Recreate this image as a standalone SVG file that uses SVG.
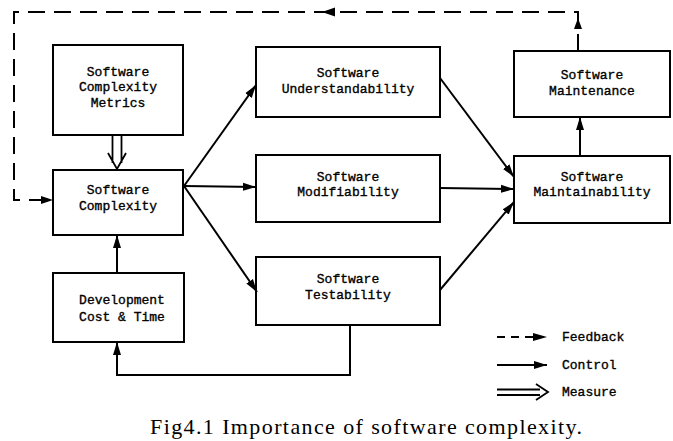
<svg xmlns="http://www.w3.org/2000/svg" width="673" height="441" viewBox="0 0 673 441">
<defs>
<style>
.box{fill:#fff;stroke:#000;stroke-width:2}
.t{font-family:"Liberation Mono","DejaVu Sans Mono",monospace;font-size:13px;text-anchor:middle;fill:#000;stroke:#000;stroke-width:0.35}
.lt{font-family:"Liberation Mono","DejaVu Sans Mono",monospace;font-size:13px;fill:#000;stroke:#000;stroke-width:0.35}
.c{stroke:#000;stroke-width:2;fill:none}
.d{stroke:#000;stroke-width:2;fill:none;stroke-dasharray:17 9}
.m{stroke:#000;stroke-width:1.8;fill:none}
.cap{font-family:"Liberation Serif","Times New Roman",serif;font-size:22px;fill:#000}
</style>
<marker id="ah" markerUnits="userSpaceOnUse" markerWidth="14" markerHeight="10" refX="13" refY="5" orient="auto">
<path d="M0,1 L13,5 L0,9 Z" fill="#000"/>
</marker>
</defs>
<rect width="673" height="441" fill="#fff"/>

<g id="metrics"><rect class="box" x="53" y="45" width="130" height="90"/>
<text class="t" x="118" y="76">Software</text><text class="t" x="118" y="91">Complexity</text><text class="t" x="118" y="107">Metrics</text></g>
<g id="complexity"><rect class="box" x="53" y="170" width="130" height="65"/>
<text class="t" x="118" y="194">Software</text><text class="t" x="118" y="210">Complexity</text></g>
<g id="development"><rect class="box" x="53" y="273" width="131" height="69"/>
<text class="t" x="122" y="304">Development</text><text class="t" x="122" y="321">Cost &amp; Time</text></g>
<g id="understandability"><rect class="box" x="256" y="47" width="184" height="70"/>
<text class="t" x="348" y="77">Software</text><text class="t" x="348" y="93">Understandability</text></g>
<g id="modifiability"><rect class="box" x="256" y="155" width="184" height="67"/>
<text class="t" x="348" y="181">Software</text><text class="t" x="348" y="196">Modifiability</text></g>
<g id="testability"><rect class="box" x="256" y="257" width="184" height="68"/>
<text class="t" x="348" y="283">Software</text><text class="t" x="348" y="299">Testability</text></g>
<g id="maintenance"><rect class="box" x="514" y="51" width="156" height="66"/>
<text class="t" x="592" y="79">Software</text><text class="t" x="592" y="95">Maintenance</text></g>
<g id="maintainability"><rect class="box" x="514" y="156" width="156" height="67"/>
<text class="t" x="592" y="181">Software</text><text class="t" x="592" y="196">Maintainability</text></g>

<g id="connectors">
<!-- feedback -->
<path class="d" d="M578,51 L578,12 L14,12 L14,200 L51,200"/>
<path d="M578,18 L574,29 L582,29 Z" fill="#000"/>
<path d="M322,12 L335,7.5 L335,16.5 Z" fill="#000"/>
<path d="M53,200 L41,196 L41,204 Z" fill="#000"/>
<!-- measure -->
<path class="m" d="M112.5,136 L112.5,163 M121.5,136 L121.5,163 M108,153 L117,169 L126,153"/>
<!-- control -->
<path class="c" d="M184,186 L256,85" marker-end="url(#ah)"/>
<path class="c" d="M184,186 L256,187" marker-end="url(#ah)"/>
<path class="c" d="M184,186 L257,292" marker-end="url(#ah)"/>
<path class="c" d="M440,78 L514,177" marker-end="url(#ah)"/>
<path class="c" d="M440,188 L514,189" marker-end="url(#ah)"/>
<path class="c" d="M440,290 L514,202" marker-end="url(#ah)"/>
<path class="c" d="M580,156 L580,117" marker-end="url(#ah)"/>
<path class="c" d="M117,273 L117,235" marker-end="url(#ah)"/>
<path class="c" d="M350,325 L350,375 L117,375 L117,342" marker-end="url(#ah)"/>
</g>

<g id="legend">
<path class="d" d="M497,337 L533,337" style="stroke-dasharray:8 6"/>
<path d="M547,337 L533,333 L533,341 Z" fill="#000"/>
<path class="c" d="M497,365 L547,365" marker-end="url(#ah)"/>
<path class="m" d="M497,389.5 L540,389.5 M497,395 L540,395 M536,384 L548,392 L536,400"/>
<text class="lt" x="562" y="341">Feedback</text>
<text class="lt" x="562" y="369">Control</text>
<text class="lt" x="562" y="396">Measure</text>
</g>

<text class="cap" x="150" y="434" textLength="432" lengthAdjust="spacing">Fig4.1 Importance of software complexity.</text>
</svg>
